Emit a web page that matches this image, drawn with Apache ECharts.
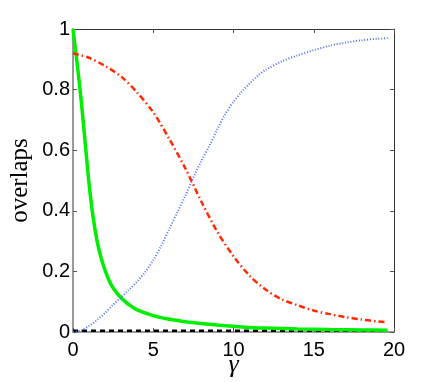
<!doctype html>
<html>
  <head>
    <meta charset="utf-8">
    <script src="https://cdn.jsdelivr.net/npm/echarts@6/dist/echarts.min.js"></script>
  </head>
  <body style="margin:0;background:#fff;">
    <div id="main" style="width:436px;height:382px;"></div>
  </body>
  <script>
   // values
   var xTicks = [0, 5, 10, 15, 20];
   var yTicks = [0, 0.2, 0.4, 0.6, 0.8, 1];

   var greenG = [0, 0.25, 0.5, 0.75, 1, 1.25, 1.5, 1.75, 2, 2.25, 2.5, 3, 3.5, 4, 5, 6, 7, 8, 9, 10, 11, 12, 14, 16, 18, 19.6];
   var greenV = [1.0, 0.89, 0.77, 0.63, 0.49, 0.38, 0.30, 0.245, 0.203, 0.17, 0.145, 0.112, 0.09, 0.073, 0.054, 0.042, 0.034, 0.028, 0.023, 0.019, 0.015, 0.013, 0.010, 0.008, 0.007, 0.006];

   var redG = [0, 1, 2, 3, 4, 5, 6, 7, 8, 9, 10, 11, 12, 13, 14, 15, 16, 17, 18, 19, 19.6];
   var redV = [0.92, 0.905, 0.878, 0.843, 0.79, 0.725, 0.637, 0.54, 0.43, 0.33, 0.25, 0.186, 0.14, 0.108, 0.088, 0.071, 0.059, 0.049, 0.041, 0.035, 0.032];

   var blueG = [0, 0.5, 1, 1.5, 2, 2.5, 3, 3.5, 4, 4.5, 5, 5.5, 6, 6.5, 7, 7.5, 8, 8.5, 9, 9.5, 10, 10.5, 11, 11.5, 12, 13, 14, 15, 16, 17, 18, 19, 19.6];
   var blueV = [0.0, 0.005, 0.02, 0.04, 0.063, 0.09, 0.115, 0.14, 0.167, 0.198, 0.237, 0.285, 0.34, 0.395, 0.45, 0.51, 0.565, 0.615, 0.67, 0.72, 0.76, 0.792, 0.82, 0.845, 0.865, 0.893, 0.913, 0.93, 0.945, 0.955, 0.963, 0.968, 0.97];

   var blackG = [0, 5, 10, 15, 19.6];
   var blackV = [0.004, 0.004, 0.004, 0.004, 0.004];

   function pairs(xs, ys) {
     var out = [];
     for (var i = 0; i < xs.length; i++) out.push([xs[i], ys[i]]);
     return out;
   }

   var chart = echarts.init(document.getElementById('main'));
   var labelFont = {fontFamily: 'Liberation Sans', fontSize: 20, color: '#000'};
   var option = {
     animation: false,
     grid: {left: 73, right: 42, top: 29, bottom: 50, containLabel: false, outerBoundsMode: 'none'},
     xAxis: [
       {
         type: 'value', min: 0, max: 20, interval: 5, position: 'bottom',
         name: 'γ', nameLocation: 'middle', nameGap: 20, nameMoveOverlap: false,
         nameTextStyle: {fontFamily: 'Liberation Serif', fontStyle: 'italic', fontSize: 26, color: '#000'},
         axisLine: {onZero: false, lineStyle: {color: '#999', width: 2}},
         axisTick: {inside: true, length: 4, lineStyle: {color: '#555'}},
         axisLabel: Object.assign({margin: 8}, labelFont),
         splitLine: {show: false}
       },
       {
         type: 'value', min: 0, max: 20, interval: 5, position: 'top',
         axisLine: {onZero: false, lineStyle: {color: '#333', width: 1}},
         axisTick: {inside: true, length: 4, lineStyle: {color: '#555'}},
         axisLabel: {show: false},
         splitLine: {show: false}
       }
     ],
     yAxis: [
       {
         type: 'value', min: 0, max: 1, interval: 0.2, position: 'left',
         name: 'overlaps', nameLocation: 'middle', nameGap: 40, nameMoveOverlap: false,
         nameTextStyle: {fontFamily: 'Liberation Serif', fontSize: 25, color: '#000'},
         axisLine: {onZero: false, lineStyle: {color: '#999', width: 2}},
         axisTick: {inside: true, length: 4, lineStyle: {color: '#555'}},
         axisLabel: Object.assign({margin: 3}, labelFont),
         splitLine: {show: false}
       },
       {
         type: 'value', min: 0, max: 1, interval: 0.2, position: 'right',
         axisLine: {onZero: false, lineStyle: {color: '#333', width: 1}},
         axisTick: {inside: true, length: 4, lineStyle: {color: '#555'}},
         axisLabel: {show: false},
         splitLine: {show: false}
       }
     ],
     series: [
       {
         type: 'line', data: pairs(blackG, blackV), showSymbol: false,
         lineStyle: {color: '#000', width: 2.5, type: [5, 4]}
       },
       {
         type: 'line', data: pairs(greenG, greenV), showSymbol: false, smooth: 0.3,
         lineStyle: {color: '#00ee00', width: 3.5}
       },
       {
         type: 'line', data: pairs(redG, redV), showSymbol: false, smooth: 0.3,
         lineStyle: {color: '#ff2a00', width: 2.5, type: [6, 3, 1.5, 3]}
       },
       {
         type: 'line', data: pairs(blueG, blueV), showSymbol: false, smooth: 0.3,
         lineStyle: {color: '#5070ff', width: 2, type: [1, 1.8]}
       }
     ]
   };
   chart.setOption(option);
  </script>
</html>
